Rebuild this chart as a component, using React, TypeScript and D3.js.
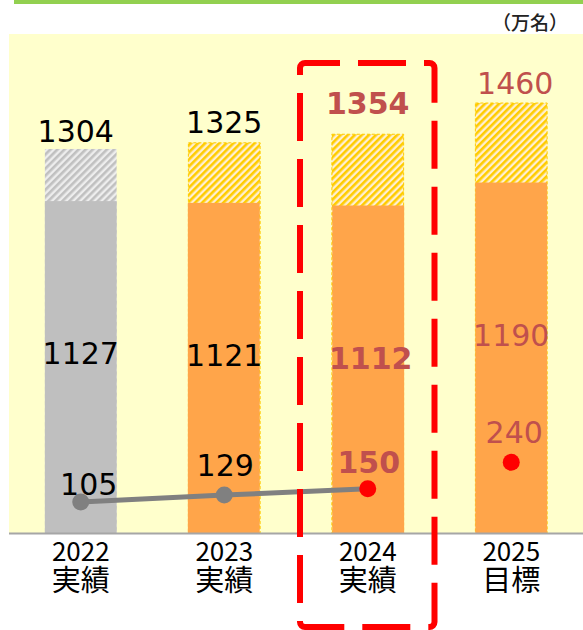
import React from "react";
import * as d3 from "d3";

const years = ["2022", "2023", "2024", "2025"];
const yearSub = ["実績", "実績", "実績", "目標"];
const totals = [1304, 1325, 1354, 1460];
const actuals = [1127, 1121, 1112, 1190];
const lineValues = [105, 129, 150, 240];
const unitLabel = "（万名）";

const W = 583;
const H = 630;
const PLOT_L = 9;
const PLOT_R = 583;
const PLOT_T = 34;
const BASE = 533;

export default function App() {
  const x = d3
    .scaleBand<string>()
    .domain(years)
    .range([PLOT_L, PLOT_R])
    .paddingInner(0.5)
    .paddingOuter(0.25);
  const pxPerUnit = 0.2945;
  const y = d3.scaleLinear().domain([0, 1700]).range([BASE, BASE - 1700 * pxPerUnit]);
  const bw = x.bandwidth();
  const cx = (i: number) => (x(years[i]) as number) + bw / 2;

  const black = "#000000";
  const red = "#C0504D";
  const styleFor = (i: number) => ({
    fill: i >= 2 ? red : black,
    fontWeight: i === 2 ? 700 : 400,
  });

  // layout tweaks for label placement (offsets in px, not data)
  const totalDx = [-5, 0, 0, 4];
  const totalDy = [-7, -10, -20, -9];
  const lineDx = [8, 1, 1, 3];
  const lineDy = [-7, -19, -16, -19];

  const linePts = lineValues.slice(0, 3).map((v, i) => [cx(i), y(v)] as [number, number]);
  const lineGen = d3.line();

  const numFont = "'DejaVu Sans', Verdana, sans-serif";
  const jpFont = "'Noto Sans CJK JP', 'Noto Sans', sans-serif";

  // dashed highlight box
  const bx = 300, by = 63, bwid = 134.5, bh = 564;

  return (
    <svg width={W} height={H} style={{ position: "absolute", left: 0, top: 0 }}>
      <defs>
        <pattern id="hatchGray" width={5} height={5} patternUnits="userSpaceOnUse" patternTransform="rotate(45)">
          <rect width={5} height={5} fill="#EDEDED" />
          <rect width={2.6} height={5} fill="#C0C0C0" />
        </pattern>
        <pattern id="hatchYellow" width={5} height={5} patternUnits="userSpaceOnUse" patternTransform="rotate(45)">
          <rect width={5} height={5} fill="#FFEFD2" />
          <rect width={2.6} height={5} fill="#FFCC00" />
        </pattern>
      </defs>
      <rect x={0} y={0} width={W} height={H} fill="#FFFFFF" />
      <rect x={14} y={0} width={W - 14} height={4} fill="#92D050" />
      <text x={568} y={30} textAnchor="end" fontSize={19} fontFamily={jpFont} fontWeight={500} fill="#222">
        {unitLabel}
      </text>
      <rect x={PLOT_L} y={PLOT_T} width={PLOT_R - PLOT_L} height={BASE - PLOT_T} fill="#FFFFCC" />

      {years.map((yr, i) => {
        const x0 = x(yr) as number;
        const gray = i === 0;
        return (
          <g key={yr}>
            <rect
              x={x0}
              y={y(totals[i])}
              width={bw}
              height={y(0) - y(totals[i])}
              fill={gray ? "url(#hatchGray)" : "url(#hatchYellow)"}
              stroke={gray ? "none" : "#FFCC00"}
              strokeWidth={1}
              strokeDasharray="3 2"
            />
            <rect
              x={x0 + (i === 1 ? -0.5 : i === 2 ? 0.5 : 0)}
              y={y(actuals[i])}
              width={bw}
              height={y(0) - y(actuals[i])}
              fill={gray ? "#BFBFBF" : "#FFA54A"}
            />
          </g>
        );
      })}

      <line x1={PLOT_L} x2={PLOT_R} y1={BASE + 0.5} y2={BASE + 0.5} stroke="#A6A6A6" strokeWidth={2} />

      <path d={lineGen(linePts) || ""} fill="none" stroke="#808080" strokeWidth={5} />
      {lineValues.map((v, i) => (
        <circle key={i} cx={cx(i)} cy={y(v)} r={8.5} fill={i >= 2 ? "#FF0000" : "#808080"} />
      ))}

      {totals.map((v, i) => (
        <text
          key={"t" + i}
          x={cx(i) + totalDx[i]}
          y={y(v) + totalDy[i]}
          textAnchor="middle"
          fontSize={30}
          fontFamily={numFont}
          {...styleFor(i)}
        >
          {v}
        </text>
      ))}
      {actuals.map((v, i) => (
        <text
          key={"a" + i}
          x={cx(i) + (i === 2 ? 3 : 0)}
          y={y(v) + 163}
          textAnchor="middle"
          fontSize={30}
          fontFamily={numFont}
          {...styleFor(i)}
        >
          {v}
        </text>
      ))}
      {lineValues.map((v, i) => (
        <text
          key={"l" + i}
          x={cx(i) + lineDx[i]}
          y={y(v) + lineDy[i]}
          textAnchor="middle"
          fontSize={30}
          fontFamily={numFont}
          {...styleFor(i)}
        >
          {v}
        </text>
      ))}

      {years.map((yr, i) => (
        <text key={"c" + yr} textAnchor="middle" fill="#000" fontFamily={jpFont}>
          <tspan x={cx(i)} y={561} fontSize={26}>
            {yr}
          </tspan>
          <tspan x={cx(i)} y={591} fontSize={29}>
            {yearSub[i]}
          </tspan>
        </text>
      ))}

      <rect
        x={bx}
        y={by}
        width={bwid}
        height={bh}
        rx={5}
        fill="none"
        stroke="#FF0000"
        strokeWidth={6}
        strokeDasharray="48 18"
        strokeDashoffset={13}
      />
    </svg>
  );
}
